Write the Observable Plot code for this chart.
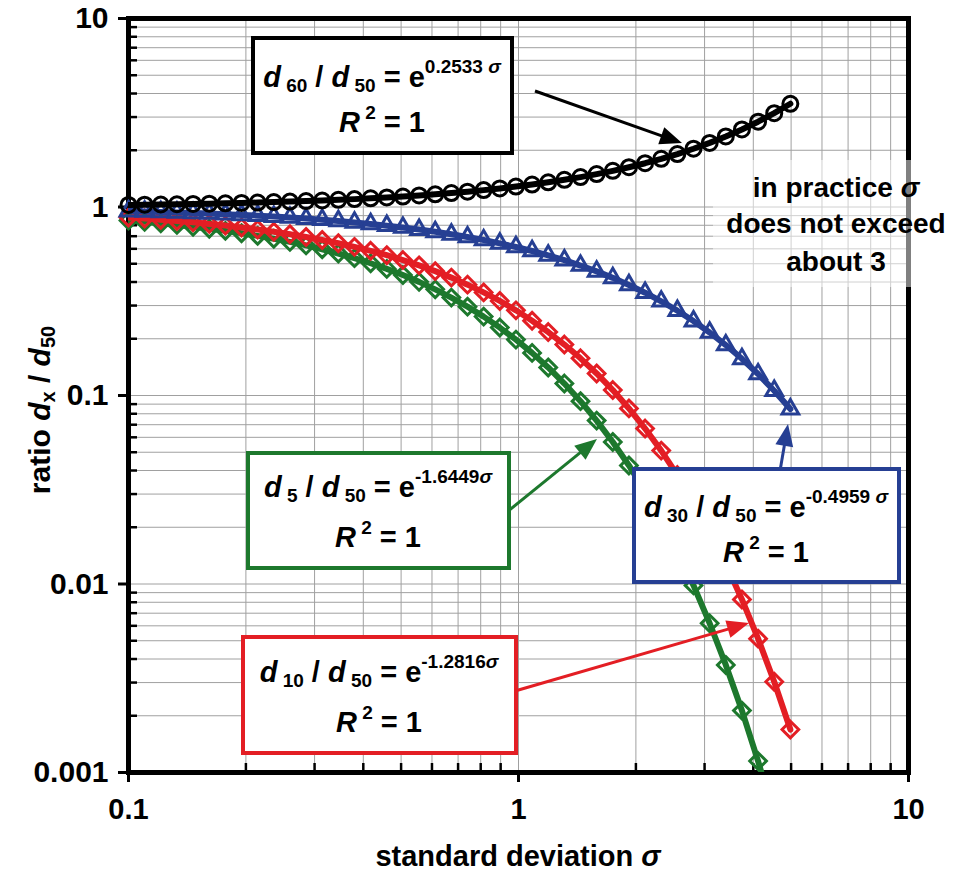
<!DOCTYPE html>
<html><head><meta charset="utf-8">
<script src="https://cdn.jsdelivr.net/npm/d3@7"></script>
<script src="https://cdn.jsdelivr.net/npm/@observablehq/plot@0.6"></script>
<style>
body{margin:0;background:#fff;}
svg{font-family:"Liberation Sans",Arial,Helvetica,sans-serif;}
</style>
</head><body><div id="chart"></div>
<script>
// ---- data ----
const sigma = [0.1, 0.11, 0.121, 0.1331, 0.1464, 0.1611, 0.1772, 0.1949, 0.2144, 0.2358, 0.2594, 0.2853, 0.3138, 0.3452, 0.3797, 0.4177, 0.4595, 0.5054, 0.556, 0.6116, 0.6727, 0.74, 0.814, 0.8954, 0.985, 1.0835, 1.1918, 1.311, 1.4421, 1.5863, 1.7449, 1.9194, 2.1114, 2.3225, 2.5548, 2.8102, 3.0913, 3.4004, 3.7404, 4.1145, 4.5259, 4.9785];
const d60 = [1.0257, 1.0283, 1.0311, 1.0343, 1.0378, 1.0416, 1.0459, 1.0506, 1.0558, 1.0615, 1.0679, 1.0749, 1.0827, 1.0914, 1.1010, 1.1116, 1.1234, 1.1366, 1.1512, 1.1676, 1.1858, 1.2062, 1.2290, 1.2546, 1.2834, 1.3158, 1.3524, 1.3939, 1.4409, 1.4945, 1.5558, 1.6261, 1.7071, 1.8009, 1.9100, 2.0377, 2.1881, 2.3663, 2.5791, 2.8354, 3.1469, 3.5292];
const d30 = [0.9516, 0.9469, 0.9418, 0.9361, 0.9300, 0.9232, 0.9159, 0.9079, 0.8992, 0.8896, 0.8793, 0.8681, 0.8559, 0.8427, 0.8284, 0.8129, 0.7962, 0.7783, 0.7590, 0.7384, 0.7163, 0.6928, 0.6679, 0.6414, 0.6136, 0.5843, 0.5538, 0.5220, 0.4891, 0.4554, 0.4209, 0.3860, 0.3510, 0.3161, 0.2817, 0.2482, 0.2159, 0.1852, 0.1565, 0.1300, 0.1060, 0.0847];
const d10 = [0.8797, 0.8685, 0.8564, 0.8432, 0.8289, 0.8135, 0.7969, 0.7790, 0.7598, 0.7392, 0.7172, 0.6937, 0.6688, 0.6425, 0.6147, 0.5855, 0.5549, 0.5232, 0.4904, 0.4567, 0.4222, 0.3874, 0.3523, 0.3174, 0.2830, 0.2494, 0.2171, 0.1863, 0.1575, 0.1309, 0.1069, 0.0854, 0.0668, 0.0510, 0.03785, 0.02728, 0.01903, 0.01281, 0.00828, 0.00513, 0.00303, 0.00169];
const d5 = [0.8483, 0.8345, 0.8195, 0.8034, 0.7860, 0.7673, 0.7472, 0.7258, 0.7029, 0.6785, 0.6527, 0.6254, 0.5968, 0.5667, 0.5354, 0.5030, 0.4696, 0.4354, 0.4007, 0.3657, 0.3307, 0.2960, 0.2621, 0.2293, 0.1979, 0.1683, 0.1408, 0.1157, 0.0933, 0.0736, 0.0567, 0.04255, 0.03103, 0.02192, 0.01496, 0.00983, 0.00619, 0.00372, 0.00213, 0.00115, 0.000584, 0.000278];

const xTickValues = [0.1, 1, 10];
const xTickLabels = ["0.1", "1", "10"];
const yTickValues = [0.001, 0.01, 0.1, 1, 10];
const yTickLabels = ["0.001", "0.01", "0.1", "1", "10"];
const fitNames = ["60", "30", "10", "5"];
const fitCoefs = ["0.2533 ", "-0.4959 ", "-1.2816", "-1.6449"];

// ---- build table ----
const rows = sigma.map((s, i) => ({sigma: s, d60: d60[i], d30: d30[i], d10: d10[i], d5: d5[i]}));
const mult = [2, 3, 4, 5, 6, 7, 8, 9];
const minorX = [0.1, 1].flatMap(d => mult.map(m => +(d * m).toPrecision(3)));
const minorY = [0.001, 0.01, 0.1, 1].flatMap(d => mult.map(m => +(d * m).toPrecision(3)));
const xLab = new Map(xTickValues.map((v, i) => [v, xTickLabels[i]]));
const yLab = new Map(yTickValues.map((v, i) => [v, yTickLabels[i]]));

const W = 958, H = 872, mL = 128, mR = 50, mT = 18, mB = 100;
const pw = W - mL - mR, ph = H - mT - mB;
const FONT = "'Liberation Sans', Arial, Helvetica, sans-serif";
const C = {black: "#000000", blue: "#263f93", red: "#e31e24", green: "#1d782d"};
const grid = "#a0a0a0";

function series(key, color, symbol, r) {
  return [
    Plot.line(rows, {x: "sigma", y: key, stroke: color, strokeWidth: 6, clip: true}),
    Plot.dot(rows, {x: "sigma", y: key, symbol, r, stroke: color, strokeWidth: 3, fill: "none",
      filter: d => d[key] >= 0.001})
  ];
}

const plot = Plot.plot({
  width: W, height: H,
  marginLeft: mL, marginRight: mR, marginTop: mT, marginBottom: mB,
  style: {fontFamily: FONT, background: "white", overflow: "visible"},
  x: {type: "log", domain: [0.1, 10]},
  y: {type: "log", domain: [0.001, 10]},
  marks: [
    Plot.ruleX(minorX.concat(xTickValues), {stroke: grid, strokeWidth: 1}),
    Plot.ruleY(minorY.concat(yTickValues), {stroke: grid, strokeWidth: 1}),
    Plot.tickX(minorX, {x: d => d, insetTop: ph - 9, stroke: "black", strokeWidth: 2.5}),
    Plot.tickY(minorY, {y: d => d, insetRight: pw - 9, stroke: "black", strokeWidth: 2.5}),
    Plot.axisX(xTickValues, {anchor: "bottom", tickSize: 10, tickPadding: 16, strokeWidth: 3,
      tickFormat: d => xLab.get(d), fontSize: 29, fontWeight: "bold", fill: "black", label: null}),
    Plot.axisY(yTickValues, {anchor: "left", tickSize: 10, tickPadding: 10, strokeWidth: 3,
      tickFormat: d => yLab.get(d), fontSize: 30, fontWeight: "bold", fill: "black", label: null}),
    Plot.frame({stroke: "black", strokeWidth: 5}),
    ...series("d5", C.green, "diamond2", 7.5),
    ...series("d10", C.red, "diamond2", 7.5),
    ...series("d30", C.blue, "triangle", 6.2),
    ...series("d60", C.black, "circle", 7.5)
  ]
});
document.getElementById("chart").appendChild(plot);

// ---- annotations ----
const svg = d3.select(plot);
const g = svg.append("g").attr("font-family", FONT).attr("font-weight", "bold");

function rich(x, y, parts, size, opts = {}) {
  const t = g.append("text").attr("x", x).attr("y", y)
    .attr("text-anchor", opts.anchor || "middle")
    .attr("font-size", size).attr("fill", "black")
    .attr("style", "white-space:pre");
  if (opts.transform) t.attr("transform", opts.transform);
  let cur = 0;
  for (const p of parts) {
    const off = p.sub ? (p.off ?? 5) : p.sup ? (p.off ?? -14) : 0;
    const ts = t.append("tspan").text(p.t).attr("dy", off - cur);
    if (p.sub || p.sup) ts.attr("font-size", p.size || 19);
    if (p.i) ts.attr("font-style", "italic");
    cur = off;
  }
  return t;
}
function arrow(x1, y1, x2, y2, color, w = 3, hl = 22, hw = 9) {
  const dx = x2 - x1, dy = y2 - y1, L = Math.hypot(dx, dy), ux = dx / L, uy = dy / L;
  const bx = x2 - ux * hl, by = y2 - uy * hl;
  g.append("line").attr("x1", x1).attr("y1", y1).attr("x2", bx + ux * 2).attr("y2", by + uy * 2)
    .attr("stroke", color).attr("stroke-width", w);
  g.append("path").attr("d", `M${x2},${y2}L${bx - uy * hw},${by + ux * hw}L${bx + uy * hw},${by - ux * hw}Z`)
    .attr("fill", color);
}
function box(x, y, w, h, color) {
  g.append("rect").attr("x", x).attr("y", y).attr("width", w).attr("height", h)
    .attr("fill", "white").attr("stroke", color).attr("stroke-width", 4);
}
function eqn(cx, y1, y2, idx) {
  rich(cx, y1, [
    {t: "d", i: true}, {t: " " + fitNames[idx], sub: true}, {t: " / "},
    {t: "d", i: true}, {t: " 50", sub: true}, {t: " = e"},
    {t: fitCoefs[idx], sup: true}, {t: "σ", sup: true, i: true}
  ], 29);
  rich(cx, y2, [{t: "R", i: true}, {t: " 2", sup: true, off: -13}, {t: " = 1"}], 29);
}

// arrows
arrow(535, 91, 682, 143, C.black);
arrow(507, 512, 597, 439, C.green);
arrow(780, 471, 788, 424, C.blue);
arrow(515, 691, 749, 623, C.red);

// boxes
box(253, 38, 259, 115, C.black);  eqn(382, 87, 132, 0);
box(634, 469, 265, 113, C.blue);  eqn(766, 517, 562, 1);
box(243, 637, 273, 116, C.red);   eqn(379, 682, 732, 2);
box(248, 453, 261, 115, C.green); eqn(378, 497, 547, 3);

// practice note
g.append("rect").attr("x", 713).attr("y", 160).attr("width", 245).attr("height", 127)
  .attr("fill", "white").attr("fill-opacity", 0.5);
rich(836, 197, [{t: "in practice "}, {t: "σ", i: true}], 28);
rich(836, 233, [{t: "does not exceed"}], 28);
rich(836, 271, [{t: "about 3"}], 28);

// axis titles
rich(518, 866, [{t: "standard deviation "}, {t: "σ", i: true}], 29);
rich(50, 410, [{t: "ratio "}, {t: "d", i: true}, {t: "x", sub: true, size: 20}, {t: " / "},
  {t: "d", i: true}, {t: "50", sub: true, size: 20}], 30, {transform: "rotate(-90,50,410)"});
</script>
</body></html>
